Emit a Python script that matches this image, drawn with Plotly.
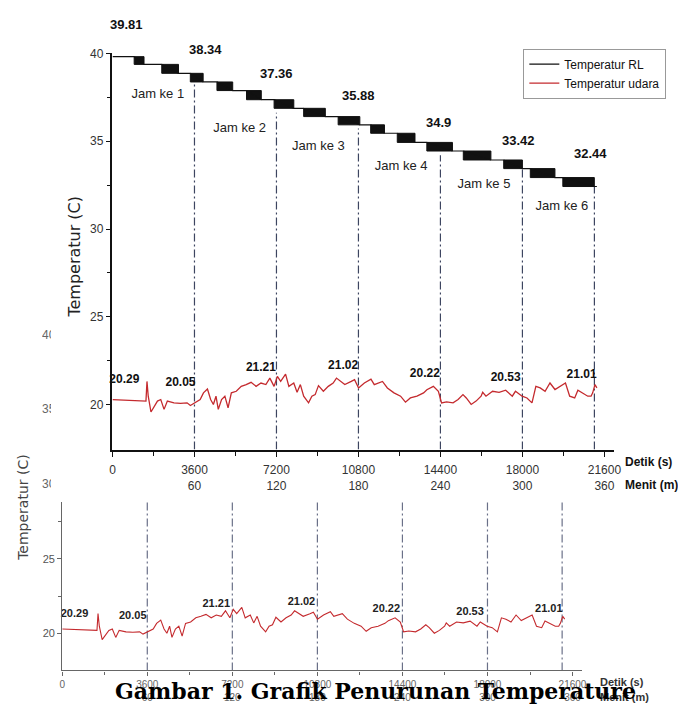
import plotly.graph_objects as go

# ---------------- data ----------------
time_s = [0, 960, 1470, 1515, 1570, 1690, 1830, 1975, 2120, 2265, 2410, 2700, 2985, 3275, 3420,
          3635, 3850, 3995, 4170, 4310, 4430, 4545, 4645, 4790, 4935, 5075, 5220, 5435, 5655,
          5870, 6085, 6305, 6520, 6735, 6910, 7095, 7240, 7385, 7600, 7745, 7960, 8105, 8250,
          8395, 8610, 8755, 8900, 9045, 9260, 9475, 9690, 9835, 10050, 10200, 10485, 10630,
          10805, 11060, 11350, 11495, 11855, 12070, 12360, 12650, 12865, 13080, 13370, 13660,
          13805, 14090, 14310, 14450, 14670, 14955, 15175, 15390, 15535, 15750, 15965, 16185,
          16255, 16400, 16690, 16975, 17265, 17555, 17695, 17985, 18200, 18420, 18590, 18780,
          18995, 19210, 19430, 19645, 19890, 20075, 20295, 20435, 20655, 20870, 21015, 21085,
          21185, 21270]
udara_c = [20.30, 20.26, 20.21, 21.33, 20.49, 19.59, 19.92, 20.21, 20.30, 19.74, 20.21, 20.11,
           20.08, 20.11, 19.96, 20.11, 20.30, 20.68, 20.90, 20.30, 20.02, 20.49, 19.74, 20.30,
           20.49, 19.83, 20.68, 20.77, 21.05, 21.15, 21.28, 21.05, 21.24, 21.15, 21.52, 21.05,
           21.62, 21.33, 21.75, 21.05, 21.24, 20.71, 21.15, 20.49, 20.11, 20.49, 20.58, 21.09,
           20.77, 21.05, 21.24, 21.52, 21.28, 21.15, 21.33, 21.43, 20.96, 21.24, 21.46, 21.15,
           21.33, 20.96, 20.68, 20.49, 20.15, 20.39, 20.49, 20.68, 20.86, 21.05, 20.77, 20.11,
           20.17, 20.11, 20.30, 20.58, 20.39, 20.02, 20.21, 20.49, 20.71, 20.49, 20.77, 20.71,
           20.83, 20.49, 20.77, 20.49, 20.39, 20.11, 21.05, 20.96, 20.77, 21.24, 20.87, 21.05,
           21.24, 20.49, 20.39, 20.83, 20.68, 20.49, 20.49, 20.68, 21.15, 20.96]

rl_block_start = [952, 2164, 3418, 4587, 5885, 7096, 8394, 9909, 11337, 12505, 13803, 15404,
                  17178, 18346, 19774]
rl_block_end = [1385, 2899, 3981, 5279, 6534, 7962, 9346, 10861, 11943, 13283, 14928, 16616,
                18000, 19428, 21158]
rl_levels = [39.81, 39.37, 38.86, 38.37, 37.88, 37.36, 36.87, 36.40, 35.93, 35.45, 34.93,
             34.44, 33.93, 33.44, 32.93, 32.42]
rl_end_s = 21270

hour_marks_s = [3600, 7200, 10800, 14400, 18000, 21160]
hour_line_top = [38.30, 36.62, 35.72, 34.20, 33.45, 32.40]

rl_label_text = ["39.81", "38.34", "37.36", "35.88", "34.9", "33.42", "32.44"]
rl_label_s = [606, 4067, 7183, 10818, 14322, 17827, 20986]
rl_label_c = [41.63, 40.23, 38.87, 37.58, 36.06, 35.04, 34.31]

jam_text = ["Jam ke 1", "Jam ke 2", "Jam ke 3", "Jam ke 4", "Jam ke 5", "Jam ke 6"]
jam_s = [1990, 5582, 9043, 12678, 16313, 19731]
jam_c = [37.63, 35.72, 34.70, 33.52, 32.51, 31.27]

udara_label_text = ["20.29", "20.05", "21.21", "21.02", "20.22", "20.53", "21.01"]
udara_label_s = [519, 2986, 6519, 10125, 13717, 17264, 20597]
udara_label_c = [21.41, 21.24, 22.08, 22.20, 21.75, 21.52, 21.69]

x_tickvals = [0, 3600, 7200, 10800, 14400, 18000, 21600]
x_ticktext = ["0", "3600<br>60", "7200<br>120", "10800<br>180", "14400<br>240",
              "18000<br>300", "21600<br>360"]
x_minor = [1800, 5400, 9000, 12600, 16200, 19800]
y_tickvals = [20, 25, 30, 35, 40]
y_minor = [22.5, 27.5, 32.5, 37.5]
hidden_lower_ticks = [40, 35, 30]

# ---------------- layout geometry ----------------
OFF = 8                      # page body margin of the browser
W, H = 686 - OFF, 709 - OFF
def px(x):
    return (x - OFF) / W
def py(y):
    return 1 - (y - OFF) / H

top_xdom = [px(111), px(620)]
top_ydom = [py(447), py(46.7)]
top_yrange = [17.45, 40.0]
low_xdom = [px(60), px(588)]
low_ydom = [py(670), py(500)]
low_yrange = [17.53, 28.8]
x_range = [0, 22020]

def top_y_paper(t):
    return top_ydom[0] + (t - top_yrange[0]) / (top_yrange[1] - top_yrange[0]) * (top_ydom[1] - top_ydom[0])
def low_y_paper(t):
    return low_ydom[0] + (t - low_yrange[0]) / (low_yrange[1] - low_yrange[0]) * (low_ydom[1] - low_ydom[0])

NARROW = "Liberation Sans Narrow, Arial Narrow, Liberation Sans, Arial, sans-serif"
RED = "#c42a2e"
DASHC = "#3d4560"

fig = go.Figure()

# hour marker lines (top and bottom panels)
vx, vy_top, vy_low = [], [], []
for s, t in zip(hour_marks_s, hour_line_top):
    vx += [s, s, None]
    vy_top += [top_yrange[0], t, None]
    vy_low += [low_yrange[0], t, None]
fig.add_trace(go.Scatter(x=vx, y=vy_top, mode="lines", showlegend=False, hoverinfo="skip",
                         line=dict(color=DASHC, width=1.2, dash="8px,3px,2px,3px"),
                         xaxis="x", yaxis="y"))
fig.add_trace(go.Scatter(x=vx, y=vy_low, mode="lines", showlegend=False, hoverinfo="skip",
                         line=dict(color="#6a7088", width=1.2, dash="8px,3px,2px,3px"),
                         xaxis="x2", yaxis="y2"))

# RL staircase line
rx, ry = [0], [rl_levels[0]]
for i, (s, e) in enumerate(zip(rl_block_start, rl_block_end)):
    rx += [s, e]
    ry += [rl_levels[i], rl_levels[i + 1]]
rx.append(rl_end_s)
ry.append(rl_levels[-1])

# RL oscillation blocks
bx, by = [], []
for i, (s, e) in enumerate(zip(rl_block_start, rl_block_end)):
    bx += [s, e, e, s, s, None]
    by += [rl_levels[i], rl_levels[i], rl_levels[i + 1], rl_levels[i + 1], rl_levels[i], None]
fig.add_trace(go.Scatter(x=bx, y=by, mode="lines", fill="toself", fillcolor="#111111",
                         line=dict(color="#111111", width=1), showlegend=False,
                         hoverinfo="skip", xaxis="x", yaxis="y"))
fig.add_trace(go.Scatter(x=rx, y=ry, mode="lines", name="Temperatur RL",
                         line=dict(color="#111111", width=1.2), xaxis="x", yaxis="y"))

# air temperature
fig.add_trace(go.Scatter(x=time_s, y=udara_c, mode="lines", name="Temperatur udara",
                         line=dict(color=RED, width=1.3), xaxis="x", yaxis="y"))
fig.add_trace(go.Scatter(x=time_s, y=udara_c, mode="lines", showlegend=False,
                         line=dict(color=RED, width=1.1), xaxis="x2", yaxis="y2"))

# text labels inside the plots
fig.add_trace(go.Scatter(x=jam_s, y=jam_c, text=jam_text, mode="text",
                         textposition="middle center", cliponaxis=False, showlegend=False,
                         textfont=dict(family=NARROW, size=13, color="#222"),
                         xaxis="x", yaxis="y"))
fig.add_trace(go.Scatter(x=udara_label_s, y=udara_label_c, text=udara_label_text, mode="text",
                         textposition="middle center", cliponaxis=False, showlegend=False,
                         textfont=dict(family=NARROW, size=12, color="#111", weight="bold"),
                         xaxis="x", yaxis="y"))
fig.add_trace(go.Scatter(x=udara_label_s, y=[c - 0.1 for c in udara_label_c],
                         text=udara_label_text, mode="text",
                         textposition="middle center", cliponaxis=False, showlegend=False,
                         textfont=dict(family=NARROW, size=11, color="#222", weight="bold"),
                         xaxis="x2", yaxis="y2"))

axis_common = dict(showgrid=False, zeroline=False, ticks="outside", showline=True)

fig.update_layout(
    width=W, height=H, margin=dict(l=0, r=0, t=0, b=0),
    paper_bgcolor="white", plot_bgcolor="rgba(0,0,0,0)",
    xaxis=dict(domain=top_xdom, range=x_range, anchor="y", tickmode="array",
               tickvals=x_tickvals, ticktext=x_ticktext, linecolor="#111", linewidth=2,
               tickcolor="#111", ticklen=5, tickwidth=1.3, ticklabelstandoff=3,
               tickfont=dict(family=NARROW, size=12, color="#333"),
               minor=dict(tickvals=x_minor, ticks="outside", ticklen=4, tickcolor="#111"),
               **axis_common),
    yaxis=dict(domain=top_ydom, range=top_yrange, anchor="x", tickmode="array",
               tickvals=y_tickvals, linecolor="#111", linewidth=1.5, tickcolor="#111",
               ticklen=5, tickwidth=1.3,
               tickfont=dict(family=NARROW, size=12, color="#333"),
               minor=dict(tickvals=y_minor, ticks="outside", ticklen=4, tickcolor="#111"),
               **axis_common),
    xaxis2=dict(domain=low_xdom, range=x_range, anchor="y2", tickmode="array",
                tickvals=x_tickvals, ticktext=x_ticktext, linecolor="#666", linewidth=1.3,
                tickcolor="#666", ticklen=4, tickwidth=1,
                tickfont=dict(family=NARROW, size=10, color="#666"),
                minor=dict(tickvals=x_minor, ticks="outside", ticklen=3, tickcolor="#666"),
                **axis_common),
    yaxis2=dict(domain=low_ydom, range=low_yrange, anchor="x2", tickmode="array",
                tickvals=y_tickvals, linecolor="#666", linewidth=1.3, tickcolor="#666",
                ticklen=4, tickwidth=1,
                tickfont=dict(family=NARROW, size=11, color="#555"),
                minor=dict(tickvals=y_minor, ticks="outside", ticklen=3, tickcolor="#666"),
                **axis_common),
    legend=dict(x=px(528), y=py(42), xanchor="left", yanchor="top", bgcolor="white",
                bordercolor="#999", borderwidth=1, itemwidth=30,
                font=dict(family=NARROW, size=12, color="#111"), tracegroupgap=0),
    showlegend=True,
)

ann = []
# RL value labels (some sit above the axis range, so they are placed with the axis mapping)
for txt, s, c in zip(rl_label_text, rl_label_s, rl_label_c):
    ann.append(dict(text="<b>" + txt + "</b>", x=s, y=top_y_paper(c), xref="x", yref="paper",
                    xanchor="center", yanchor="middle", showarrow=False,
                    font=dict(family=NARROW, size=13, color="#111")))
ann.append(dict(text="Temperatur (C)", x=px(73), y=py(252), xref="paper", yref="paper",
                xanchor="center", yanchor="middle", textangle=-90, showarrow=False,
                font=dict(family="DejaVu Sans", size=16, color="#222")))
ann.append(dict(text="Temperatur (C)", x=px(20), y=py(505), xref="paper", yref="paper",
                xanchor="center", yanchor="middle", textangle=-90, showarrow=False,
                font=dict(family="DejaVu Sans", size=14, color="#444")))
ann.append(dict(text="<b>Detik (s)</b>", x=px(629), y=py(460), xref="paper", yref="paper",
                xanchor="left", yanchor="middle", showarrow=False,
                font=dict(family=NARROW, size=12, color="#111")))
ann.append(dict(text="<b>Menit (m)</b>", x=px(629), y=py(483), xref="paper", yref="paper",
                xanchor="left", yanchor="middle", showarrow=False,
                font=dict(family=NARROW, size=12, color="#111")))
ann.append(dict(text="<b>Detik (s)</b>", x=px(604), y=py(682), xref="paper", yref="paper",
                xanchor="left", yanchor="middle", showarrow=False,
                font=dict(family=NARROW, size=11, color="#333")))
ann.append(dict(text="<b>Menit (m)</b>", x=px(604), y=py(697), xref="paper", yref="paper",
                xanchor="left", yanchor="middle", showarrow=False,
                font=dict(family=NARROW, size=11, color="#333")))
# partly hidden tick labels of the lower (duplicated) axis
for t in hidden_lower_ticks:
    ann.append(dict(text=str(t), x=px(38), y=low_y_paper(t), xref="paper", yref="paper",
                    xanchor="left", yanchor="middle", align="left", width=9,
                    showarrow=False, borderpad=0,
                    font=dict(family=NARROW, size=12, color="#666")))
ann.append(dict(text="<b>Gambar 1. Grafik Penurunan Temperature</b>", x=px(378), y=py(691),
                xref="paper", yref="paper", xanchor="center", yanchor="middle",
                showarrow=False, font=dict(family="DejaVu Serif", size=22, color="#000")))
fig.update_layout(annotations=ann)

fig.write_html("out.html")
